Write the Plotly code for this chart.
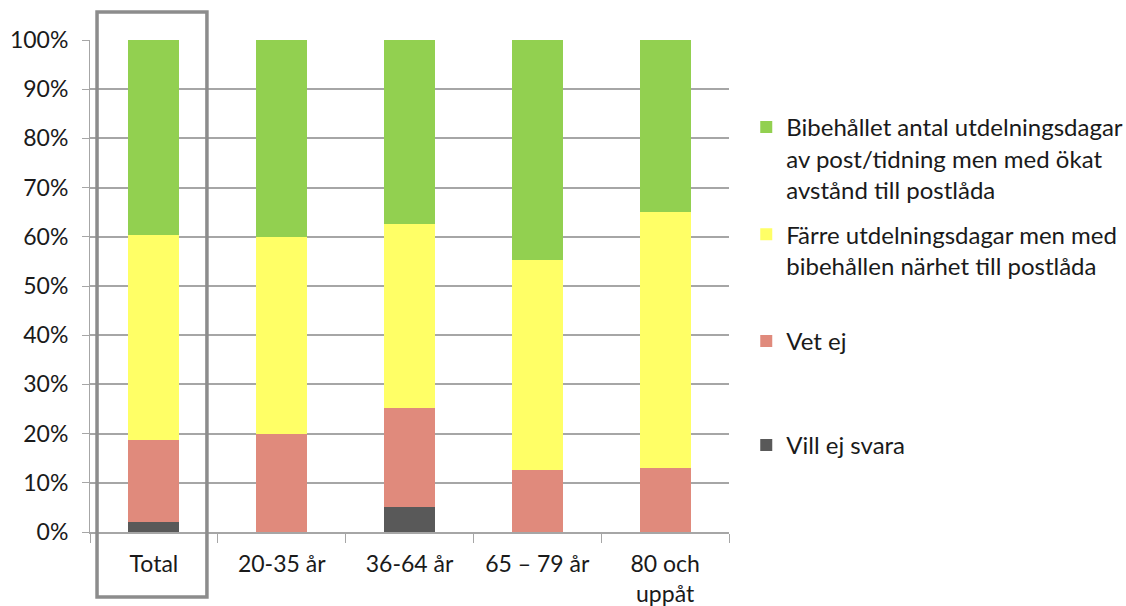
import plotly.graph_objects as go

categories = ["Total", "20-35 år", "36-64 år", "65 – 79 år", "80 och<br>uppåt"]

vill_ej_svara = [2.1, 0.0, 5.0, 0.0, 0.0]
vet_ej = [16.6, 19.9, 20.3, 12.7, 13.0]
farre_dagar = [41.6, 40.1, 37.3, 42.6, 52.1]
bibehallet_antal = [39.7, 40.0, 37.4, 44.7, 34.9]

series_names = [
    "Vill ej svara",
    "Vet ej",
    "Färre utdelningsdagar men med<br>bibehållen närhet till postlåda",
    "Bibehållet antal utdelningsdagar<br>av post/tidning men med ökat<br>avstånd till postlåda",
]
series_values = [vill_ej_svara, vet_ej, farre_dagar, bibehallet_antal]
series_colors = ["#595959", "#E08A7C", "#FFFF66", "#92D050"]
legend_ids = ["legend4", "legend3", "legend2", "legend"]
legend_tops = [0.222, 0.433, 0.650, 0.868]

FONT = "Lato"
GRID = "#A6A6A6"
TEXT = "#1a1a1a"

fig = go.Figure()
for name, vals, color, lg in zip(series_names, series_values, series_colors, legend_ids):
    fig.add_trace(go.Bar(
        x=categories, y=vals, name=name, legend=lg,
        marker=dict(color=color, line=dict(width=0)),
    ))

legend_common = dict(
    x=1.027, xanchor="left", yanchor="top", valign="top",
    bgcolor="rgba(0,0,0,0)", borderwidth=0,
    font=dict(family=FONT, size=24, color=TEXT),
    itemwidth=30, itemclick=False,
)

fig.update_layout(
    width=1126, height=606,
    margin=dict(l=90, r=397, t=40, b=74, autoexpand=False),
    paper_bgcolor="white", plot_bgcolor="white",
    barmode="stack", bargap=0.6,
    font=dict(family=FONT, size=24, color=TEXT),
    showlegend=True,
    legend=dict(y=legend_tops[3], **legend_common),
    legend2=dict(y=legend_tops[2], **legend_common),
    legend3=dict(y=legend_tops[1], **legend_common),
    legend4=dict(y=legend_tops[0], **legend_common),
    xaxis=dict(
        type="category", tickson="boundaries",
        ticks="outside", ticklen=9, tickcolor=GRID, tickwidth=1,
        showline=True, linecolor=GRID, linewidth=1.5,
        showgrid=False, range=[-0.5, 4.5],
        ticklabelstandoff=11, automargin=False,
        tickfont=dict(family=FONT, size=23, color=TEXT),
    ),
    yaxis=dict(
        range=[0, 100], dtick=10, ticksuffix="%",
        ticks="outside", ticklen=7, tickcolor=GRID, tickwidth=1,
        showline=True, linecolor=GRID, linewidth=1,
        showgrid=True, gridcolor=GRID, gridwidth=1.5,
        zeroline=False, ticklabelstandoff=9, automargin=False,
        tickfont=dict(family=FONT, size=23, color=TEXT),
    ),
)

# Frame highlighting the Total column
fig.add_shape(
    type="rect", xref="paper", yref="paper",
    x0=0.011, x1=0.183, y0=-0.132, y1=1.057,
    line=dict(color="#8C8C8C", width=3.5),
    fillcolor="rgba(0,0,0,0)", layer="above",
)

fig.write_html("out.html")
